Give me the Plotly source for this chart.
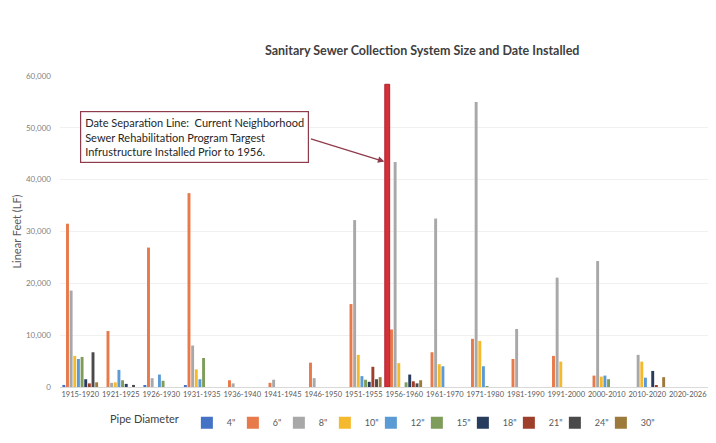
import plotly.graph_objects as go

categories = ["1915-1920", "1921-1925", "1926-1930", "1931-1935", "1936-1940",
              "1941-1945", "1946-1950", "1951-1955", "1956-1960", "1961-1970",
              "1971-1980", "1981-1990", "1991-2000", "2000-2010", "2010-2020",
              "2020-2026"]

pipe_sizes = ['4"', '6"', '8"', '10"', '12"', '15"', '18"', '21"', '24"', '30"']

lf_4in  = [400, 0, 300, 300, 0, 0, 0, 0, 0, 0, 0, 0, 0, 0, 0, 0]
lf_6in  = [31500, 10800, 26900, 37400, 1300, 800, 4700, 16000, 11100, 6700, 9300, 5400, 6000, 2200, 0, 0]
lf_8in  = [18600, 800, 1700, 8000, 700, 1400, 1700, 32200, 43400, 32500, 55000, 11200, 21100, 24300, 6200, 0]
lf_10in = [6000, 900, 0, 3400, 0, 0, 0, 6200, 4600, 4400, 8900, 0, 4900, 2000, 4900, 0]
lf_12in = [5400, 3300, 2400, 1500, 0, 0, 0, 2100, 0, 4000, 4000, 0, 0, 2200, 1800, 0]
lf_15in = [5800, 1300, 1200, 5600, 0, 0, 0, 1400, 900, 0, 150, 0, 0, 1500, 0, 0]
lf_18in = [1500, 600, 0, 0, 0, 0, 0, 1000, 2400, 0, 0, 0, 0, 0, 3100, 0]
lf_21in = [700, 0, 0, 0, 0, 0, 0, 3900, 1100, 0, 0, 0, 0, 0, 200, 0]
lf_24in = [6700, 400, 0, 0, 0, 0, 0, 1500, 700, 0, 0, 0, 0, 0, 0, 0]
lf_30in = [900, 0, 0, 0, 0, 0, 0, 1900, 1300, 0, 0, 0, 0, 0, 1900, 0]

series_values = [lf_4in, lf_6in, lf_8in, lf_10in, lf_12in,
                 lf_15in, lf_18in, lf_21in, lf_24in, lf_30in]

colors = ["#4472C4", "#E8794A", "#A8A8A8", "#F5B92E", "#5B9BD5",
          "#7E9C5A", "#283C5E", "#9E3F2C", "#4A4A4A", "#9C7A3C"]

y_ticks = [0, 10000, 20000, 30000, 40000, 50000, 60000]

separation_year_index = 7.58      # boundary between 1951-1955 and 1956-1960
separation_height = 58400

annotation_text = ("Date Separation Line:  Current Neighborhood<br>"
                   "Sewer Rehabilitation Program Targest<br>"
                   "Infrustructure Installed Prior to 1956.")

fig = go.Figure()
for name, vals, col in zip(pipe_sizes, series_values, colors):
    fig.add_trace(go.Bar(x=categories, y=vals, name=name,
                         marker=dict(color=col, line=dict(width=0))))

# invisible spacer entry so the last legend label is not clipped
fig.add_trace(go.Scatter(x=[None], y=[None], name=" ", mode="markers",
                         marker=dict(color="rgba(0,0,0,0)"), hoverinfo="skip"))

# separation line
fig.add_shape(type="rect", xref="x", yref="y",
              x0=separation_year_index - 0.06, x1=separation_year_index + 0.06,
              y0=0, y1=separation_height,
              fillcolor="#D3303A", line=dict(color="#B02230", width=1), layer="above")

# text box
fig.add_annotation(xref="paper", yref="paper", x=0.2076, y=0.804,
                   text=annotation_text, showarrow=False, align="left",
                   font=dict(family="Lato", size=11, color="#262626"),
                   bordercolor="#8E3B4B", borderwidth=1.2, borderpad=4,
                   bgcolor="white", xanchor="center", yanchor="middle")
# arrow
fig.add_annotation(xref="x", yref="y", x=separation_year_index - 0.07, y=43500,
                   text="", showarrow=True, axref="pixel", ayref="pixel",
                   ax=-75, ay=-23, arrowhead=2, arrowsize=1, arrowwidth=1.3,
                   arrowcolor="#8E3B4B")

fig.update_layout(
    width=708, height=435,
    margin=dict(l=52, r=8, t=68, b=56, autoexpand=False),
    paper_bgcolor="white", plot_bgcolor="white",
    barmode="group", bargap=0.1, bargroupgap=0.2,
    title=dict(text="Sanitary Sewer Collection System Size and Date Installed",
               x=0.585, xanchor="center", y=0.903, yanchor="middle",
               font=dict(family="Lato", size=12.5, color="#404040", weight="bold")),
    font=dict(family="Lato", color="#595959"),
    showlegend=True,
    legend=dict(orientation="h", x=0.074, xanchor="left", y=-0.115, yanchor="middle",
                title=dict(text="Pipe Diameter", font=dict(size=11, color="#404040")),
                font=dict(size=9, color="#595959"),
                entrywidth=1, itemwidth=30, bgcolor="rgba(0,0,0,0)"),
)
fig.update_xaxes(type="category", tickangle=0, automargin=False,
                 tickfont=dict(size=7.5, color="#595959"),
                 showline=True, linecolor="#D9D9D9", ticks="", showgrid=False)
fig.update_yaxes(range=[0, 60000], tickvals=y_ticks, tickformat=",",
                 automargin=False, ticklabelstandoff=8,
                 tickfont=dict(size=8, color="#7F7F7F"),
                 showgrid=True, gridcolor="#F0F0F0", zeroline=False,
                 title=dict(text="Linear Feet (LF)", font=dict(size=11, color="#595959"),
                            standoff=2))

fig.write_html("out.html")
